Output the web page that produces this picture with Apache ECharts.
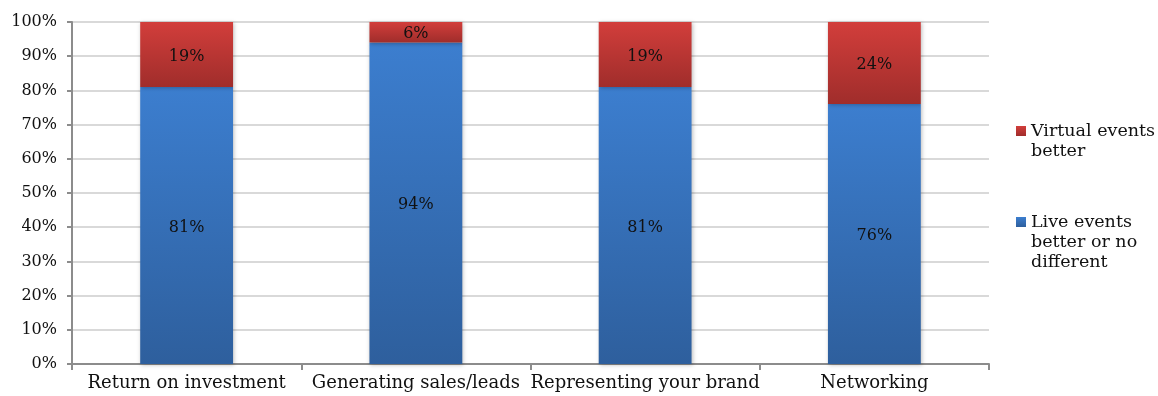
<!DOCTYPE html>
<html><head><meta charset="utf-8">
<script src="https://cdn.jsdelivr.net/npm/echarts@6/dist/echarts.min.js"></script>
<style>html,body{margin:0;padding:0;background:#fff}#c{width:1158px;height:396px}</style>
</head><body><div id="c"></div>
<script>
const categories = ['Return on investment', 'Generating sales/leads', 'Representing your brand', 'Networking'];
const liveBetter = [81, 94, 81, 76];
const virtualBetter = [19, 6, 19, 24];
const yTicks = [0, 10, 20, 30, 40, 50, 60, 70, 80, 90, 100];
const seriesNames = ['Live events better or no different', 'Virtual events better'];
const legendLabels = ['\n\nLive events\nbetter or no\ndifferent', '\nVirtual events\nbetter'];

const FONT = 'DejaVu Serif';
const chart = echarts.init(document.getElementById('c'));
const blueGrad = new echarts.graphic.LinearGradient(0, 0, 0, 1, [{offset: 0, color: '#3c7ecf'}, {offset: 1, color: '#2e5f9d'}]);
const redGrad = new echarts.graphic.LinearGradient(0, 0, 0, 1, [{offset: 0, color: '#d23e3b'}, {offset: 1, color: '#a02d2b'}]);
const lbl = {show: true, position: 'inside', offset: [0, 2], color: '#111', fontFamily: FONT, fontSize: 16, formatter: p => p.value + '%'};
const legendText = {fontFamily: FONT, fontSize: 17.5, color: '#111', lineHeight: 20};
chart.setOption({
  animation: false,
  grid: {left: 72, right: 169, top: 22, bottom: 32},
  legend: [
    {data: [seriesNames[1]], left: 1016, top: 101, padding: 0, itemWidth: 10, itemHeight: 10, itemGap: 0, icon: 'rect',
     formatter: () => legendLabels[1], textStyle: legendText},
    {data: [seriesNames[0]], left: 1016, top: 172, padding: 0, itemWidth: 10, itemHeight: 10, itemGap: 0, icon: 'rect',
     formatter: () => legendLabels[0], textStyle: legendText}
  ],
  xAxis: {
    type: 'category', data: categories,
    axisLine: {lineStyle: {color: '#8c8c8c', width: 2}},
    axisTick: {show: true, length: 6, lineStyle: {color: '#8c8c8c', width: 2}},
    axisLabel: {fontFamily: FONT, fontSize: 18, color: '#111', margin: 10, interval: 0}
  },
  yAxis: {
    type: 'value', min: 0, max: 100, interval: 10,
    axisLine: {show: true, lineStyle: {color: '#8c8c8c', width: 2}},
    axisTick: {show: true, length: 5, lineStyle: {color: '#8c8c8c', width: 2}},
    splitLine: {lineStyle: {color: '#d9d9d9', width: 2}},
    axisLabel: {fontFamily: FONT, fontSize: 16, color: '#111', margin: 15,
      formatter: v => yTicks.includes(v) ? v + '%' : ''}
  },
  series: [
    {name: seriesNames[0], type: 'bar', stack: 'a', data: liveBetter, barWidth: '40.5%',
     itemStyle: {color: blueGrad, shadowBlur: 4, shadowColor: 'rgba(0,0,0,0.25)', shadowOffsetX: 1, shadowOffsetY: 1}, label: lbl},
    {name: seriesNames[1], type: 'bar', stack: 'a', data: virtualBetter, barWidth: '40.5%',
     itemStyle: {color: redGrad, shadowBlur: 4, shadowColor: 'rgba(0,0,0,0.25)', shadowOffsetX: 1, shadowOffsetY: 1}, label: lbl}
  ]
});
</script></body></html>
